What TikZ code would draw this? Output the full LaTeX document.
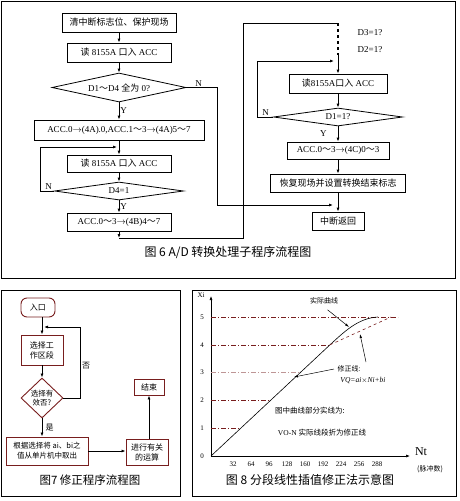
\documentclass[tikz,border=0pt]{standalone}
\usepackage{fontspec}
\setmainfont{Liberation Serif}
\newfontfamily\zhfont{Noto Sans CJK SC}
\newcommand{\zh}[1]{{\zhfont #1}}
\usepackage{xcolor}
\definecolor{maroon}{RGB}{120,30,30}
\definecolor{pinkgrey}{RGB}{190,150,150}
\usetikzlibrary{shapes.geometric,arrows.meta,positioning,calc}

\begin{document}
\begin{tikzpicture}[x=1pt, y=-1pt,
    box/.style={draw, line width=0.8pt, inner sep=1pt, font=\fontsize{9}{10}\selectfont},
    cond/.style={draw, diamond, aspect=6, inner sep=0pt, line width=0.8pt, font=\fontsize{9}{10}\selectfont},
    arr/.style={-{Latex[length=4pt,width=3pt]}, line width=0.8pt},
    lbl/.style={font=\fontsize{9}{10}\selectfont, inner sep=1pt},
    mbox/.style={draw=maroon, line width=0.9pt, align=center, inner sep=1pt, font=\zhfont\fontsize{8}{10}\selectfont},
    tick/.style={font=\fontsize{7}{8}\selectfont, inner sep=0pt},
    guide/.style={maroon, line width=0.6pt, dash pattern=on 5pt off 2pt on 1pt off 2pt}]
    \useasboundingbox (0,0) rectangle (459,501);

    % frames
    \draw[line width=1pt] (1,1) rectangle (455,278);
    \draw[line width=1pt] (1,290) rectangle (180,496);
    \draw[line width=1pt] (192,290) rectangle (456,496);

    % Fig 6, left column
    \node[box, minimum width=114, minimum height=19] (b1) at (119,22.5) {\zh{清中断标志位、保护现场}};
    \node[box, minimum width=104, minimum height=19] (b2) at (119,52.5) {\zh{读} 8155A \zh{口入} ACC};
    \node[cond, minimum width=134, minimum height=29] (d1) at (119,87.5) {D1\zh{～}D4 \zh{全为} 0?};
    \node[box, minimum width=170, minimum height=20] (b3) at (119,130) {ACC.0$\rightarrow$(4A).0,ACC.1\zh{～}3$\rightarrow$(4A)5\zh{～}7};
    \node[box, minimum width=104, minimum height=17] (b4) at (119,163.5) {\zh{读} 8155A \zh{口入} ACC};
    \node[cond, minimum width=129, minimum height=18] (d2) at (119,191) {D4=1};
    \node[box, minimum width=104, minimum height=18] (b5) at (119,222) {ACC.0\zh{～}3$\rightarrow$(4B)4\zh{～}7};

    % Fig 6, right column
    \node[lbl] (q3) at (370,33) {D3=1?};
    \node[lbl] (q2) at (370,50) {D2=1?};
    \node[box, minimum width=98, minimum height=19] (b6) at (338,83.5) {\zh{读}8155A\zh{口入} ACC};
    \node[cond, minimum width=129, minimum height=18] (d3) at (338,117) {D1=1?};
    \node[box, minimum width=102, minimum height=17] (b7) at (338,150.5) {ACC.0\zh{～}3$\rightarrow$(4C)0\zh{～}3};
    \node[box, minimum width=135, minimum height=18] (b8) at (338,183) {\zh{恢复现场并设置转换结束标志}};
    \node[box, minimum width=52, minimum height=18] (b9) at (338,221) {\zh{中断返回}};
    \node[font=\zhfont\fontsize{12}{14}\selectfont] (cap6) at (228,252) {图 6 A/D 转换处理子程序流程图};

    \coordinate (j1) at (119,238);
    \coordinate (j2) at (338,23);
    \coordinate (j3) at (338,205);
    \coordinate (j4) at (338,61);
    \coordinate (j5) at (119,147);

    \draw[arr] (b1) -- (b2);
    \draw[arr] (b2) -- (d1);
    \draw[arr] (d1) -- node[lbl, right] {Y} (b3);
    \draw[arr] (b3) -- (b4);
    \draw[arr] (b4) -- (d2);
    \draw[arr] (d2) -- node[lbl, right] {Y} (b5);
    \draw[arr, shorten >=2pt] (d2.west) -- (40,191) node[lbl, above right, xshift=4pt] {N} |- (j5);
    \draw[arr, shorten >=5pt] (d1.east) -- node[lbl, above, pos=0.4] {N} (217,87.5) |- (j3);
    \draw[arr] (b5) -- (j1);
    \draw[line width=0.8pt] (j1) -- (243,238) -- (243,23) -- (j2);
    \draw[line width=1.6pt, dash pattern=on 3pt off 3pt] (j2) -- (338,55);
    \draw[arr] (338,55) -- (b6);
    \draw[arr, shorten >=4pt] (d3.west) -- (257,117) node[lbl, above right, xshift=4pt] {N} |- (j4);
    \draw[arr] (b6) -- (d3);
    \draw[arr] (d3) -- node[lbl, left, xshift=-10pt] {Y} (b7);
    \draw[arr] (b7) -- (b8);
    \draw[arr] (b8) -- (b9);

    % Fig 7
    \node[mbox, rounded corners=6pt, minimum width=34, minimum height=19] (s7) at (38,307.5) {入口};
    \node[mbox, minimum width=42, minimum height=30] (w7) at (42,350) {选择工\\作区段};
    \node[mbox, diamond, aspect=1, inner sep=0pt, minimum width=42, minimum height=40, font=\zhfont\fontsize{7.5}{9}\selectfont] (v7) at (42,398) {选择有\\效否?};
    \node[mbox, minimum width=82, minimum height=28, font=\zhfont\fontsize{7.5}{10}\selectfont] (t7) at (47,451) {根据选择将 ai、bi之\\值从单片机中取出};
    \node[mbox, minimum width=42, minimum height=26] (c7) at (147,452) {进行有关\\的运算};
    \node[mbox, minimum width=30, minimum height=16] (e7) at (149,387) {结束};
    \node[font=\zhfont\fontsize{11.5}{13}\selectfont] (cap7) at (90,480) {图7 修正程序流程图};
    \coordinate (j7) at (42,327);

    \draw[arr] (s7.south -| w7) -- (w7.north);
    \draw[arr] (w7) -- (v7);
    \draw[arr, shorten >=2pt] (v7.east) -- (80,398) |- (j7);
    \node[font=\zhfont\fontsize{8}{9}\selectfont] (no7) at (86,366) {否};
    \draw[arr] (v7.south) -- node[font=\zhfont\fontsize{8}{9}\selectfont, right] {是} (v7.south |- t7.north);
    \draw[arr] (t7.east) -- (t7.east -| c7.west);
    \draw[arr] (c7.north -| e7) -- (e7.south);

    % Fig 8
    \draw[arr, line width=0.6pt] (211,456) -- (211,296);
    \draw[arr, line width=0.6pt] (211,456) -- (410,456);
    \node[tick] (xi) at (201,295) {Xi};
    \node[font=\fontsize{12}{13}\selectfont, inner sep=0pt] (nt) at (421,452) {Nt};
    \node[font=\zhfont\fontsize{7}{8}\selectfont] (pl) at (430,469) {(脉冲数)};
    \foreach \k/\xe in {1/240, 2/269, 4/330, 5/398} {
        \draw[guide] (211,{456-27.8*\k}) -- (\xe,{456-27.8*\k});
    }
    \draw[guide, pinkgrey, line width=1.1pt] (211,372.6) -- (300,372.6);
    \foreach \k in {0,...,5} {
        \node[tick] at (202,{456-27.8*\k}) {\k};
    }
    \foreach \n [count=\i] in {32,64,96,128,160,192,224,256,288} {
        \node[tick] at ({215+18*\i},464) {\n};
    }
    \draw[line width=0.6pt] (211,456) -- (330,344.8) .. controls (344,332) and (358,318) .. (378,317);
    \draw[maroon, line width=0.6pt, dashed] (330,344.8) -- (391,317);

    \node[font=\zhfont\fontsize{7}{8}\selectfont] (act) at (324,301) {实际曲线};
    \node[font=\zhfont\fontsize{7}{8}\selectfont] (cor) at (349,369) {修正线:};
    \node[font=\fontsize{7.5}{8}\selectfont\itshape] (eq) at (363,381) {VQ=ai$\times$Ni+bi};
    \node[font=\zhfont\fontsize{7.5}{8}\selectfont] (n1) at (310,411) {图中曲线部分实线为:};
    \node[font=\fontsize{7.5}{8}\selectfont] (n2) at (322,433) {VO-N \zh{实际线段折为修正线}};
    \draw[-{Latex[length=4pt,width=2.5pt]}, line width=0.5pt] (act.south east) ++(-14,2) -- (349,327);
    \draw[-{Latex[length=4pt,width=2.5pt]}, line width=0.5pt] (366,362) -- (360,334);
    \draw[-{Latex[length=4pt,width=2.5pt]}, line width=0.5pt] (cor.west) -- (294,377);
    \node[font=\zhfont\fontsize{12}{14}\selectfont] (cap8) at (310,480) {图 8 分段线性插值修正法示意图};
\end{tikzpicture}
\end{document}
